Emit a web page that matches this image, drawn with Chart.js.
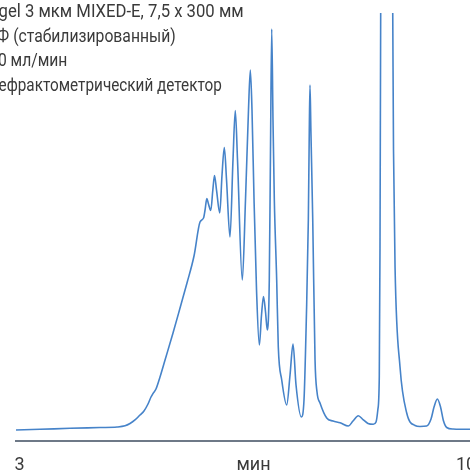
<!DOCTYPE html>
<html lang="ru">
<head>
  <meta charset="UTF-8">
  <title>Хроматограмма</title>
  <script src="https://cdn.jsdelivr.net/npm/chart.js"></script>
  <style>
    html, body {
      margin: 0;
      padding: 0;
      width: 470px;
      height: 474px;
      overflow: hidden;
      background: #ffffff;
    }

    .wrap {
      position: absolute;
      left: 0;
      top: 0;
      width: 500px;
      height: 494px;
    }

    .conditions {
      position: absolute;
      left: 0;
      top: -1px;
      font-family: Roboto, sans-serif;
      font-size: 18px;
      line-height: 24.5px;
      color: #3a3a3a;
      white-space: nowrap;
    }

    .conditions div {
      position: relative;
      transform-origin: left top;
    }

    /* condensed look, the narrow face is not available */
    .l1 { left: -21px; transform: scaleX(0.927); }
    .l2 { left: -21px; transform: scaleX(0.873); }
    .l3 { left: -14px; transform: scaleX(0.87); }
    .l4 { left: -11px; transform: scaleX(0.85); }
  </style>
</head>
<body>

  <div class="wrap"><canvas id="chrom" width="500" height="494"></canvas></div>

  <div class="conditions">
    <div class="l1">PLgel 3 мкм MIXED-E, 7,5 x 300 мм</div>
    <div class="l2">ТГФ (стабилизированный)</div>
    <div class="l3">1,0 мл/мин</div>
    <div class="l4">Рефрактометрический детектор</div>
  </div>

  <script>
    // retention time, min
    const times = [
      2.945, 3.321, 3.792, 4.262, 4.528, 4.654, 4.732, 4.810, 4.889, 4.951,
      5.014, 5.061, 5.092, 5.139, 5.202, 5.281, 5.406, 5.516, 5.625, 5.735,
      5.829, 5.884, 5.908, 5.936, 5.962, 5.998, 6.030, 6.056, 6.088, 6.139,
      6.174, 6.210, 6.245, 6.299, 6.346, 6.382, 6.417, 6.492, 6.542, 6.589,
      6.618, 6.644, 6.676, 6.715, 6.759, 6.793, 6.824, 6.856, 6.884, 6.915,
      6.934, 6.953, 6.973, 6.994, 7.031, 7.056, 7.110, 7.188, 7.240, 7.287,
      7.334, 7.417, 7.459, 7.495, 7.527, 7.542, 7.553, 7.567, 7.596, 7.632,
      7.663, 7.710, 7.815, 7.914, 8.024, 8.154, 8.227, 8.310, 8.384, 8.462,
      8.545, 8.588, 8.616, 8.639, 8.650, 8.661, 8.668, 8.755, 8.843, 8.850,
      8.862, 8.886, 8.964, 9.069, 9.199, 9.277, 9.382, 9.450, 9.497, 9.549,
      9.599, 9.646, 9.696, 9.795, 10.061, 10.39
    ];

    // detector response
    const signal = [
      2.57, 2.73, 2.97, 3.15, 3.27, 3.55, 4.09, 4.91, 6.07, 7.01,
      8.64, 10.28, 11.10, 12.15, 14.95, 18.93, 25.23, 31.07, 36.92, 43.22,
      51.17, 52.10, 53.97, 56.66, 55.37, 53.86, 58.64, 62.03, 58.64, 53.27,
      62.15, 68.57, 60.98, 47.66, 65.65, 77.22, 65.65, 37.62, 56.31, 77.34,
      86.68, 77.34, 56.31, 35.28, 22.43, 29.44, 33.76, 30.14, 25.93, 37.62,
      67.99, 96.26, 75.00, 56.31, 37.62, 22.03, 14.25, 8.41, 15.42, 22.66,
      13.08, 5.61, 9.58, 28.27, 51.64, 72.66, 83.18, 72.66, 51.64, 18.93,
      11.45, 8.88, 5.37, 4.67, 4.28, 3.50, 4.67, 5.91, 5.02, 4.09,
      3.90, 4.44, 7.24, 14.95, 44.63, 100.0, 117.06, 313.3, 117.06, 100.0,
      67.99, 40.65, 17.29, 6.54, 3.62, 3.39, 3.50, 5.14, 7.94, 9.81,
      7.94, 4.67, 3.15, 2.80, 2.73, 2.73
    ];

    const xMin = 2.945;
    const xMax = 10.39;
    // the unit sits on the tick row, halfway along the axis
    const xTicks = [3, 6.6675, 10];
    const xTickLabels = ['3', 'мин', '10'];

    const points = times.map((t, i) => ({ x: t, y: signal[i] }));

    new Chart(document.getElementById('chrom'), {
      type: 'line',
      data: {
        datasets: [{
          data: points,
          borderColor: '#4683c9',
          borderWidth: 1.6,
          pointRadius: 0,
          fill: false,
          cubicInterpolationMode: 'monotone'
        }]
      },
      options: {
        responsive: false,
        animation: false,
        events: [],
        layout: {
          // tick row takes 2 * padding + line height below the axis
          padding: { left: 16, right: 9, top: 13, bottom: 3.4 }
        },
        plugins: {
          legend: { display: false },
          tooltip: { enabled: false }
        },
        scales: {
          x: {
            type: 'linear',
            min: xMin,
            max: xMax,
            afterBuildTicks: (scale) => {
              scale.ticks = xTicks.map(v => ({ value: v }));
            },
            grid: { display: false, drawTicks: false },
            border: { display: true, color: '#6e7987', width: 2 },
            ticks: {
              padding: 14,
              color: '#3a3a3a',
              maxRotation: 0,
              autoSkip: false,
              font: { family: 'Roboto', size: 18, lineHeight: 1.2 },
              callback: (v, i) => xTickLabels[i]
            }
          },
          y: {
            display: false,
            min: 0,
            max: 100
          }
        }
      }
    });
  </script>

</body>
</html>
